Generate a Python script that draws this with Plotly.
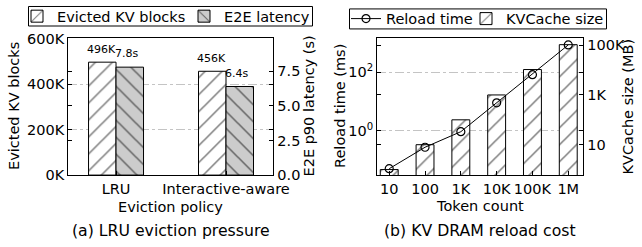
import plotly.graph_objects as go
import numpy as np

# ---- data ----
policies = ["LRU", "Interactive-aware"]
evicted_blocks = [496000, 456000]
evicted_labels = ["496K", "456K"]
e2e_latency = [7.8, 6.4]
e2e_labels = ["7.8s", "6.4s"]

token_counts = ["10", "100", "1K", "10K", "100K", "1M"]
reload_time_ms = [0.05, 0.27, 0.92, 8.9, 82, 850]
kvcache_size_mb = [1, 10, 100, 1000, 10500, 105000]

left_ticks = [0, 200000, 400000, 600000]
left_ticktext = ["0K", "200K", "400K", "600K"]
lat_ticks = [0, 2.5, 5.0, 7.5]
lat_ticktext = ["0.0", "2.5", "5.0", "7.5"]
rt_ticks = [1, 100]
rt_ticktext = ["10<sup>0</sup>", "10<sup>2</sup>"]
kv_ticks = [10, 1000, 100000]
kv_ticktext = ["10", "1K", "100K"]

W, H = 642, 247
FONT = "DejaVu Sans"
TICK = 14.5

def px_x(p):
    return p / W

def px_y(p):
    return 1 - p / H

ydom = [px_y(173.3), px_y(33.3)]
x1dom = [px_x(68.3), px_x(273.3)]
x2dom = [px_x(377.3), px_x(583.3)]

fig = go.Figure()

xi1 = np.arange(len(policies))
xi2 = np.arange(len(token_counts))

hatch = dict(fgcolor="black", size=12, solidity=0.13)

fig.add_trace(go.Bar(
    x=xi1, y=evicted_blocks, width=0.25, offset=-0.25,
    name="Evicted KV blocks", xaxis="x", yaxis="y",
    marker=dict(color="white", line=dict(color="black", width=1),
                pattern=dict(shape="/", bgcolor="white", **hatch)),
    legend="legend",
))
fig.add_trace(go.Bar(
    x=xi1, y=e2e_latency, width=0.25, offset=0.0,
    name="E2E latency", xaxis="x", yaxis="y2",
    marker=dict(color="#cccccc", line=dict(color="black", width=1),
                pattern=dict(shape="\\", bgcolor="#cccccc", **hatch)),
    legend="legend2",
))

fig.add_trace(go.Scatter(
    x=xi2, y=reload_time_ms, mode="lines+markers",
    name="Reload time", xaxis="x2", yaxis="y4",
    line=dict(color="black", width=1),
    marker=dict(symbol="circle-open", size=8, color="black", line=dict(width=1.2)),
    legend="legend3",
))
fig.add_trace(go.Bar(
    x=xi2, y=kvcache_size_mb, width=0.5,
    name="KVCache size", xaxis="x2", yaxis="y3",
    marker=dict(color="white", line=dict(color="black", width=1),
                pattern=dict(shape="/", bgcolor="white", **hatch)),
    legend="legend4",
))

axis_common = dict(
    showline=True, linecolor="black", linewidth=1.3,
    ticks="inside", ticklen=4, tickcolor="black", tickwidth=1,
    tickfont=dict(family=FONT, size=TICK, color="black"),
    zeroline=False, automargin=False,
)
grid = dict(showgrid=True, gridcolor="#c4c4c4", griddash="dashdot", gridwidth=1)

def leg(x_px, y_px):
    return dict(x=px_x(x_px), y=px_y(y_px), xanchor="left", yanchor="middle",
                orientation="h", borderwidth=0, bgcolor="rgba(0,0,0,0)",
                font=dict(family=FONT, size=TICK))

fig.update_layout(
    width=W, height=H,
    margin=dict(l=0, r=0, t=0, b=0),
    paper_bgcolor="white", plot_bgcolor="white",
    font=dict(family=FONT, color="black"),
    barmode="overlay",
    showlegend=True,
    xaxis=dict(domain=x1dom, anchor="y", range=[-0.434, 1.43],
               tickvals=list(xi1), ticktext=policies, mirror=True,
               showgrid=False, **axis_common),
    yaxis=dict(domain=ydom, anchor="x", range=[0, 600000],
               tickvals=left_ticks, ticktext=left_ticktext, mirror="ticks",
               **grid, **axis_common),
    yaxis2=dict(overlaying="y", side="right", anchor="x", range=[0, 9.87],
                tickvals=lat_ticks, ticktext=lat_ticktext, mirror="ticks",
                showgrid=False, **axis_common),
    xaxis2=dict(domain=x2dom, anchor="y3", range=[-0.333, 5.42],
                tickvals=list(xi2), ticktext=token_counts, mirror=True,
                showgrid=False, **axis_common),
    yaxis3=dict(domain=ydom, anchor="x2", side="right", type="log",
                range=[np.log10(0.6), np.log10(186000)],
                tickvals=kv_ticks, ticktext=kv_ticktext, mirror="ticks",
                showgrid=False, **axis_common),
    yaxis4=dict(overlaying="y3", side="left", anchor="x2", type="log",
                range=[-1.52, 3.15],
                tickvals=rt_ticks, ticktext=rt_ticktext, mirror="ticks",
                **grid, **axis_common),
    legend=leg(17, 10.5),
    legend2=leg(184, 10.5),
    legend3=leg(346, 13),
    legend4=leg(466, 13),
    shapes=[
        dict(type="rect", xref="paper", yref="paper",
             x0=px_x(28.5), x1=px_x(312.5), y0=px_y(20.5), y1=px_y(0.5),
             line=dict(color="black", width=1), fillcolor="rgba(0,0,0,0)"),
        dict(type="rect", xref="paper", yref="paper",
             x0=px_x(349.5), x1=px_x(606.5), y0=px_y(23.5), y1=px_y(3),
             line=dict(color="black", width=1), fillcolor="rgba(0,0,0,0)"),
    ],
)

ann = []
for i, (v, t) in enumerate(zip(evicted_blocks, evicted_labels)):
    ann.append(dict(x=xi1[i] - 0.125, y=v, xref="x", yref="y", text=t,
                    showarrow=False, yanchor="bottom", yshift=4, xshift=-1,
                    font=dict(family=FONT, size=11)))
for i, (v, t) in enumerate(zip(e2e_latency, e2e_labels)):
    ann.append(dict(x=xi1[i] + 0.125, y=v, xref="x", yref="y2", text=t,
                    showarrow=False, yanchor="bottom", yshift=5, xshift=-3,
                    font=dict(family=FONT, size=11)))

def title(x, y, text, angle=0, size=TICK):
    ann.append(dict(x=px_x(x), y=px_y(y), xref="paper", yref="paper", text=text,
                    showarrow=False, textangle=angle, xanchor="center", yanchor="middle",
                    font=dict(family=FONT, size=size)))

title(14.5, 103, "Evicted KV blocks", -90)
title(309, 103, "E2E p90 latency (s)", -90)
title(340.5, 103, "Reload time (ms)", -90)
title(628, 103, "KVCache size (MB)", -90)
title(171, 206, "Eviction policy")
title(480, 205, "Token count")
title(171, 230, "(a) LRU eviction pressure", 0, 15.7)
title(480, 230, "(b) KV DRAM reload cost", 0, 15.7)

fig.update_layout(annotations=ann)

fig.write_html("out.html", config={"displayModeBar": False},
               post_script="document.body.style.margin='0';document.body.style.padding='0';")
